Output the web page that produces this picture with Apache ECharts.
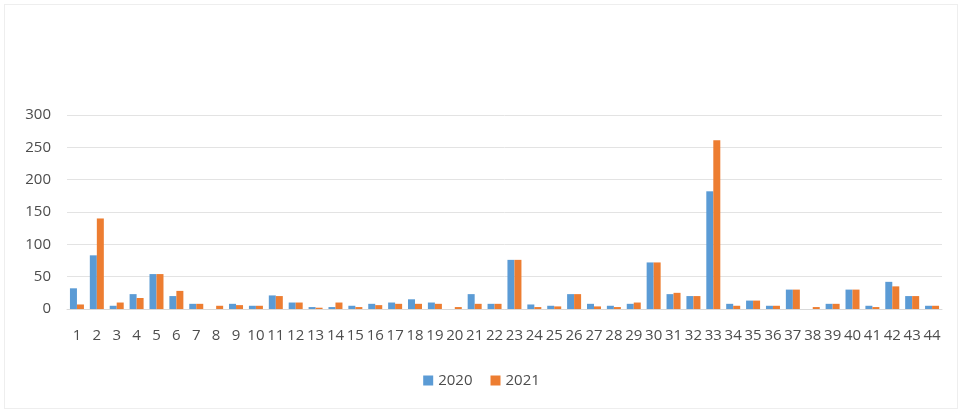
<!DOCTYPE html>
<html>
<head>
<meta charset="utf-8">
<script src="https://cdn.jsdelivr.net/npm/echarts@6/dist/echarts.min.js"></script>
<style>
  html, body { margin: 0; padding: 0; background: #fff; }
  #chart { width: 963px; height: 413px; }
  #frame { position: absolute; left: 4px; top: 4px; width: 952px; height: 403px; border: 1px solid #eeeeee; pointer-events: none; }
</style>
</head>
<body>
<div id="chart"></div>
<div id="frame"></div>
<script>
// 横轴类目 1..44
const categories = ["1","2","3","4","5","6","7","8","9","10","11","12","13","14","15","16","17","18","19","20","21","22","23","24","25","26","27","28","29","30","31","32","33","34","35","36","37","38","39","40","41","42","43","44"];

// 2020 年数值
const values2020 = [32, 83, 5, 23, 54, 20, 8, 0, 8, 5, 21, 10, 3, 3, 5, 8, 10, 15, 10, 0, 23, 8, 76, 7, 5, 23, 8, 5, 8, 72, 23, 20, 182, 8, 13, 5, 30, 0, 8, 30, 5, 42, 20, 5];

// 2021 年数值
const values2021 = [7, 140, 10, 17, 54, 28, 8, 5, 6, 5, 20, 10, 2, 10, 3, 6, 8, 8, 8, 3, 8, 8, 76, 3, 4, 23, 4, 3, 10, 72, 25, 20, 261, 5, 13, 5, 30, 3, 8, 30, 3, 35, 20, 5];

// 纵轴刻度
const yTicks = [0, 50, 100, 150, 200, 250, 300];

const myChart = echarts.init(document.getElementById("chart"));

const textColor = "#4d4d4d";
const fontFamily = "'Open Sans', 'Liberation Sans', sans-serif";

myChart.setOption({
  animation: false,
  grid: { left: 67, right: 21, top: 115, bottom: 104 },
  legend: {
    bottom: 20,
    left: "center",
    itemWidth: 10,
    itemHeight: 10,
    itemGap: 18,
    icon: "rect",
    textStyle: { color: textColor, fontSize: 15, fontFamily: fontFamily },
    data: ["2020", "2021"]
  },
  xAxis: {
    type: "category",
    data: categories,
    axisLine: { lineStyle: { color: "#d9d9d9" } },
    axisTick: { show: false },
    axisLabel: { interval: 0, color: textColor, fontSize: 15, margin: 19, fontFamily: fontFamily }
  },
  yAxis: {
    type: "value",
    min: yTicks[0],
    max: yTicks[yTicks.length - 1],
    interval: 50,
    axisLine: { show: false },
    axisTick: { show: false },
    splitLine: { lineStyle: { color: "#e3e3e3" } },
    axisLabel: { color: textColor, fontSize: 15, margin: 16, fontFamily: fontFamily }
  },
  series: [
    {
      name: "2020",
      type: "bar",
      data: values2020,
      barWidth: 7,
      barGap: "0%",
      itemStyle: { color: "#5B9BD5" }
    },
    {
      name: "2021",
      type: "bar",
      data: values2021,
      barWidth: 7,
      itemStyle: { color: "#ED7D31" }
    }
  ]
});
</script>
</body>
</html>
